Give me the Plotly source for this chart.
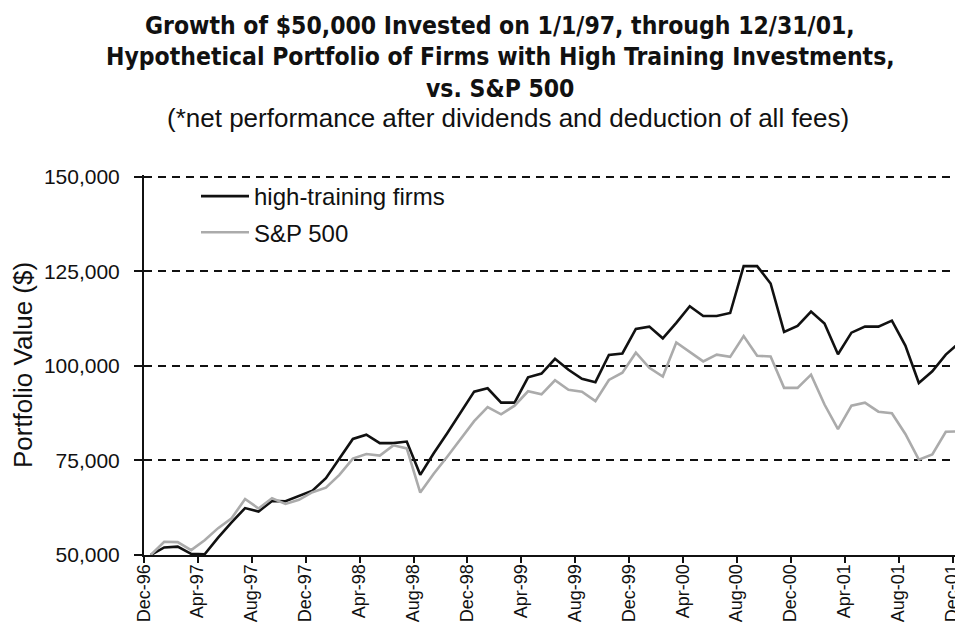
import plotly.graph_objects as go

months = ["Dec-96", "Jan-97", "Feb-97", "Mar-97", "Apr-97", "May-97", "Jun-97", "Jul-97", "Aug-97", "Sep-97",
          "Oct-97", "Nov-97", "Dec-97", "Jan-98", "Feb-98", "Mar-98", "Apr-98", "May-98", "Jun-98", "Jul-98",
          "Aug-98", "Sep-98", "Oct-98", "Nov-98", "Dec-98", "Jan-99", "Feb-99", "Mar-99", "Apr-99", "May-99",
          "Jun-99", "Jul-99", "Aug-99", "Sep-99", "Oct-99", "Nov-99", "Dec-99", "Jan-00", "Feb-00", "Mar-00",
          "Apr-00", "May-00", "Jun-00", "Jul-00", "Aug-00", "Sep-00", "Oct-00", "Nov-00", "Dec-00", "Jan-01",
          "Feb-01", "Mar-01", "Apr-01", "May-01", "Jun-01", "Jul-01", "Aug-01", "Sep-01", "Oct-01", "Nov-01",
          "Dec-01"]

high_training = [50000, 52000, 52200, 50300, 50200, 54600, 58600, 62400, 61500, 64300,
                 64200, 65700, 67000, 70300, 75600, 80700, 81800, 79600, 79600, 80000,
                 71200, 76900, 82200, 87800, 93200, 94100, 90300, 90300, 97000, 98000,
                 101900, 99000, 96600, 95700, 102900, 103300, 109800, 110400, 107300, 111400,
                 115800, 113200, 113200, 114000, 126400, 126400, 121800, 109000, 110600, 114400,
                 111200, 103100, 108800, 110400, 110400, 112000, 105400, 95500, 98600, 103000,
                 106100]

sp500 = [50000, 53500, 53400, 51300, 53900, 57100, 59700, 64800, 62300, 65000,
         63500, 64600, 66600, 67800, 71200, 75500, 76700, 76300, 79000, 78200,
         66500, 71500, 76000, 80800, 85400, 89100, 87200, 89500, 93300, 92500,
         96200, 93700, 93200, 90700, 96300, 98200, 103500, 99500, 97200, 106200,
         103800, 101200, 103000, 102400, 107900, 102700, 102500, 94200, 94200, 97700,
         89800, 83300, 89500, 90300, 87900, 87500, 82000, 75200, 76600, 82600,
         82700]

tick_labels = ["Dec-96", "Apr-97", "Aug-97", "Dec-97", "Apr-98", "Aug-98", "Dec-98", "Apr-99",
               "Aug-99", "Dec-99", "Apr-00", "Aug-00", "Dec-00", "Apr-01", "Aug-01", "Dec-01"]

y_ticks = [50000, 75000, 100000, 125000, 150000]

title_lines = ["Growth of $50,000 Invested on 1/1/97, through 12/31/01,",
               "Hypothetical Portfolio of Firms with High Training Investments,",
               "vs. S&P 500"]
subtitle = "(*net performance after dividends and deduction of all fees)"

SANS = "Liberation Sans, Arial, sans-serif"
NARROW = "Liberation Sans Narrow, Arial Narrow, DejaVu Sans Condensed, Liberation Sans, sans-serif"

fig = go.Figure()
fig.add_trace(go.Scatter(x=months, y=high_training, mode="lines", name="high-training firms",
                         line=dict(color="#111111", width=2.6), legendgroup="a"))
fig.add_trace(go.Scatter(x=months, y=sp500, mode="lines", name="S&P 500",
                         line=dict(color="#ababab", width=2.6), legendgroup="b"))

W, H = 963, 633
L, R, T, B = 136, 5, 167, 86
plot_h = H - T - B

def py(ypx):
    return (H - B - ypx) / plot_h

def px(xpx):
    return (xpx - L) / (W - L - R)

annotations = []
for txt, yc in zip(title_lines, [17, 48, 80]):
    annotations.append(dict(text="<b>" + txt + "</b>", x=px(492), y=py(yc), xref="paper", yref="paper",
                            xanchor="center", yanchor="middle", showarrow=False,
                            font=dict(family=NARROW, size=24.5, color="#111111")))
annotations.append(dict(text=subtitle, x=px(500), y=py(110), xref="paper", yref="paper",
                        xanchor="center", yanchor="middle", showarrow=False,
                        font=dict(family=SANS, size=26, color="#111111")))

fig.update_layout(
    width=W, height=H,
    margin=dict(l=L, r=R, t=T, b=B),
    paper_bgcolor="white", plot_bgcolor="white",
    font=dict(family=SANS, color="#111111"),
    annotations=annotations,
    showlegend=True,
    legend=dict(x=px(188), y=py(166), xanchor="left", yanchor="top",
                font=dict(family=SANS, size=24, color="#111111"),
                bgcolor="rgba(0,0,0,0)", tracegroupgap=2, itemwidth=48),
    xaxis=dict(type="category", categoryorder="array", categoryarray=months,
               range=[-0.5, 60.5], tickmode="array", tickvals=tick_labels, ticktext=tick_labels,
               tickson="boundaries", ticks="outside", ticklen=6, tickwidth=1.5, tickcolor="#111111",
               tickangle=-90, tickfont=dict(family=SANS, size=18, color="#111111"),
               ticklabelshift=-7,
               showline=True, linecolor="#111111", linewidth=2, showgrid=False, zeroline=False),
    yaxis=dict(range=[50000, 150500], tickmode="array", tickvals=y_ticks, tickformat=",",
               ticks="outside", ticklen=8, tickwidth=1.5, tickcolor="#111111",
               tickfont=dict(family=SANS, size=21, color="#111111"), ticklabelstandoff=10,
               showline=True, linecolor="#111111", linewidth=2,
               showgrid=True, gridcolor="#111111", gridwidth=1.5, griddash="8px,6px",
               zeroline=False,
               title=dict(text="Portfolio Value ($)", font=dict(family=SANS, size=26, color="#111111"),
                          standoff=6)),
)

fig.write_html("out.html")
